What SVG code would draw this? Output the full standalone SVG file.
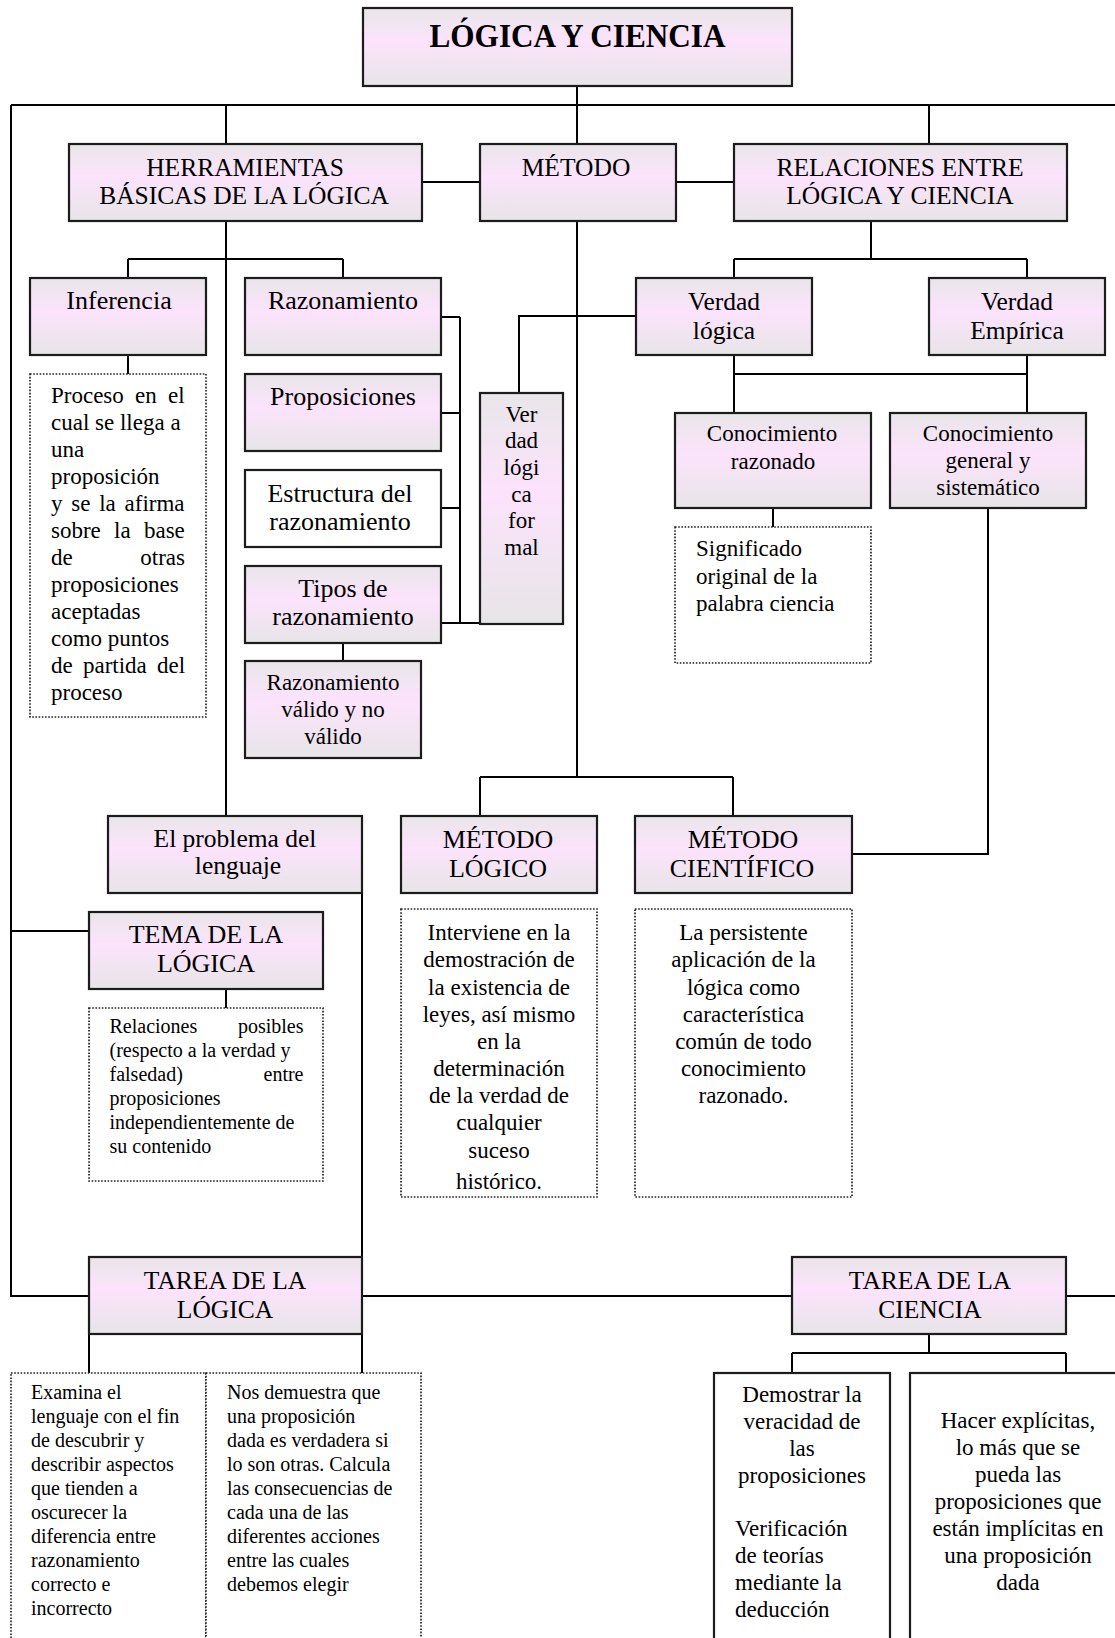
<svg xmlns="http://www.w3.org/2000/svg" width="1115" height="1638" viewBox="0 0 1115 1638">
<defs>
<linearGradient id="g" x1="0" y1="0" x2="0" y2="1">
<stop offset="0" stop-color="#e8e6e8"/>
<stop offset="0.42" stop-color="#fce3fc"/>
<stop offset="1" stop-color="#e7e5e7"/>
</linearGradient>
<style>
.n{fill:url(#g);stroke:#1c1c1c;stroke-width:2.2}
.w{fill:#fff;stroke:#1c1c1c;stroke-width:2.2}
.d{fill:#fff;stroke:#222;stroke-width:1.7;stroke-dasharray:1.6 1.6}
.c{fill:none;stroke:#000;stroke-width:2}
text{font-family:"Liberation Serif","Times New Roman",serif;fill:#000}
.h{font-size:25.5px;text-anchor:middle}
.m{font-size:26px;text-anchor:middle}
.s{font-size:23px;text-anchor:middle}
.sl{font-size:23px}
.x{font-size:20px}
.xr{font-size:20px;text-anchor:end}
.r{font-size:23px;text-anchor:end}
</style>
</defs>
<rect width="1115" height="1638" fill="#fff"/>
<g id="connectors" class="c">
<path d="M577,86V105M11,105H1115M226,105V144M577,105V144M929,105V144"/>
<path d="M422,182H480M676,182H734"/>
<path d="M11,105V1296H89M11,931H89"/>
<path d="M226,221V816M128,259H343M128,259V278M343,259V278M128,355V374"/>
<path d="M441,317H460M441,413H460M441,508H460M441,623H480M460,317V623"/>
<path d="M519,393V316H636"/>
<path d="M343,643V661"/>
<path d="M577,221V777M480,777H733M480,777V816M733,777V816"/>
<path d="M871,221V259M734,259H1027M734,259V278M1027,259V278"/>
<path d="M734,355V413M1027,355V413M734,374H1027"/>
<path d="M773,508V527"/>
<path d="M988,508V854H852"/>
<path d="M362,893V1257"/>
<path d="M226,989V1008"/>
<path d="M362,1296H792M1066,1296H1115"/>
<path d="M89,1334V1373M362,1334V1373"/>
<path d="M929,1334V1353M792,1353H1066M792,1353V1373M1066,1353V1373"/>
</g>
<g id="logica-y-ciencia">
<rect class="n" x="363" y="8" width="429" height="78"/>
<text x="577.5" y="47" font-size="33" font-weight="bold" text-anchor="middle" textLength="296" lengthAdjust="spacingAndGlyphs">LÓGICA Y CIENCIA</text>
</g>
<g id="herramientas">
<rect class="n" x="69" y="144" width="353" height="77"/>
<text class="h" x="245" y="176">HERRAMIENTAS</text>
<text class="h" x="244" y="204">BÁSICAS DE LA LÓGICA</text>
</g>
<g id="metodo">
<rect class="n" x="480" y="144" width="196" height="77"/>
<text class="h" x="576" y="176">MÉTODO</text>
</g>
<g id="relaciones">
<rect class="n" x="734" y="144" width="333" height="77"/>
<text class="h" x="900" y="176">RELACIONES ENTRE</text>
<text class="h" x="900" y="204">LÓGICA Y CIENCIA</text>
</g>
<g id="inferencia">
<rect class="n" x="30" y="278" width="176" height="77"/>
<text class="m" x="119" y="309">Inferencia</text>
</g>
<g id="inferencia-texto">
<rect class="d" x="30" y="374" width="176" height="343"/>
<text class="sl" x="51" y="403" word-spacing="5.5">Proceso en el</text>
<text class="sl" x="51" y="430">cual se llega a</text>
<text class="sl" x="51" y="457">una</text>
<text class="sl" x="51" y="484">proposición</text>
<text class="sl" x="51" y="511" word-spacing="3">y se la afirma</text>
<text class="sl" x="51" y="538" word-spacing="7.5">sobre la base</text>
<text class="sl" x="51" y="565">de</text>
<text class="r" x="185" y="565">otras</text>
<text class="sl" x="51" y="592">proposiciones</text>
<text class="sl" x="51" y="619">aceptadas</text>
<text class="sl" x="51" y="646">como puntos</text>
<text class="sl" x="51" y="673" word-spacing="4.5">de partida del</text>
<text class="sl" x="51" y="700">proceso</text>
</g>
<g id="razonamiento">
<rect class="n" x="245" y="278" width="196" height="77"/>
<text class="m" x="343" y="309">Razonamiento</text>
</g>
<g id="proposiciones">
<rect class="n" x="245" y="374" width="196" height="77"/>
<text class="m" x="343" y="405">Proposiciones</text>
</g>
<g id="estructura">
<rect class="w" x="245" y="470" width="196" height="77"/>
<text class="m" x="340" y="502">Estructura del</text>
<text class="m" x="340" y="530">razonamiento</text>
</g>
<g id="tipos">
<rect class="n" x="245" y="566" width="196" height="77"/>
<text class="m" x="343" y="597">Tipos de</text>
<text class="m" x="343" y="625">razonamiento</text>
</g>
<g id="valido">
<rect class="n" x="245" y="661" width="176" height="97"/>
<text class="s" x="333" y="690">Razonamiento</text>
<text class="s" x="333" y="717">válido y no</text>
<text class="s" x="333" y="744">válido</text>
</g>
<g id="verdad-logica-formal">
<rect class="n" x="480" y="393" width="83" height="231"/>
<text class="s" x="521.5" y="422">Ver</text>
<text class="s" x="521.5" y="448">dad</text>
<text class="s" x="521.5" y="475">lógi</text>
<text class="s" x="521.5" y="502">ca</text>
<text class="s" x="521.5" y="528">for</text>
<text class="s" x="521.5" y="555">mal</text>
</g>
<g id="verdad-logica">
<rect class="n" x="636" y="278" width="176" height="77"/>
<text class="h" x="724" y="310">Verdad</text>
<text class="h" x="724" y="339">lógica</text>
</g>
<g id="verdad-empirica">
<rect class="n" x="929" y="278" width="176" height="77"/>
<text class="h" x="1017" y="310">Verdad</text>
<text class="h" x="1017" y="339">Empírica</text>
</g>
<g id="conocimiento-razonado">
<rect class="n" x="675" y="413" width="196" height="95"/>
<text class="s" x="772" y="441">Conocimiento</text>
<text class="s" x="773" y="469">razonado</text>
</g>
<g id="conocimiento-general">
<rect class="n" x="890" y="413" width="196" height="95"/>
<text class="s" x="988" y="441">Conocimiento</text>
<text class="s" x="988" y="468">general y</text>
<text class="s" x="988" y="495">sistemático</text>
</g>
<g id="significado">
<rect class="d" x="675" y="527" width="196" height="136"/>
<text class="sl" x="696" y="556">Significado</text>
<text class="sl" x="696" y="584">original de la</text>
<text class="sl" x="696" y="611">palabra ciencia</text>
</g>
<g id="problema-lenguaje">
<rect class="n" x="108" y="816" width="254" height="77"/>
<text class="h" x="235" y="847">El problema del</text>
<text class="h" x="238" y="874">lenguaje</text>
</g>
<g id="metodo-logico">
<rect class="n" x="401" y="816" width="196" height="77"/>
<text class="m" x="498" y="848">MÉTODO</text>
<text class="m" x="498" y="877">LÓGICO</text>
</g>
<g id="metodo-cientifico">
<rect class="n" x="635" y="816" width="217" height="77"/>
<text class="m" x="743" y="848">MÉTODO</text>
<text class="m" x="742" y="877">CIENTÍFICO</text>
</g>
<g id="tema-logica">
<rect class="n" x="89" y="912" width="234" height="77"/>
<text class="m" x="206" y="943">TEMA DE LA</text>
<text class="m" x="206" y="972">LÓGICA</text>
</g>
<g id="tema-texto">
<rect class="d" x="89" y="1008" width="234" height="173"/>
<text class="x" x="109.5" y="1033">Relaciones</text>
<text class="xr" x="303.5" y="1033">posibles</text>
<text class="x" x="109.5" y="1057">(respecto a la verdad y</text>
<text class="x" x="109.5" y="1081">falsedad)</text>
<text class="xr" x="303.5" y="1081">entre</text>
<text class="x" x="109.5" y="1105">proposiciones</text>
<text class="x" x="109.5" y="1129">independientemente de</text>
<text class="x" x="109.5" y="1153">su contenido</text>
</g>
<g id="metodo-logico-texto">
<rect class="d" x="401" y="909" width="196" height="288"/>
<text class="s" x="499" y="940">Interviene en la</text>
<text class="s" x="499" y="967">demostración de</text>
<text class="s" x="499" y="995">la existencia de</text>
<text class="s" x="499" y="1022">leyes, así mismo</text>
<text class="s" x="499" y="1049">en la</text>
<text class="s" x="499" y="1076">determinación</text>
<text class="s" x="499" y="1103">de la verdad de</text>
<text class="s" x="499" y="1130">cualquier</text>
<text class="s" x="499" y="1158">suceso</text>
<text class="s" x="499" y="1189">histórico.</text>
</g>
<g id="metodo-cientifico-texto">
<rect class="d" x="635" y="909" width="217" height="288"/>
<text class="s" x="743.5" y="940">La persistente</text>
<text class="s" x="743.5" y="967">aplicación de la</text>
<text class="s" x="743.5" y="995">lógica como</text>
<text class="s" x="743.5" y="1022">característica</text>
<text class="s" x="743.5" y="1049">común de todo</text>
<text class="s" x="743.5" y="1076">conocimiento</text>
<text class="s" x="743.5" y="1103">razonado.</text>
</g>
<g id="tarea-logica">
<rect class="n" x="89" y="1257" width="273" height="77"/>
<text class="h" x="225" y="1289">TAREA DE LA</text>
<text class="h" x="225" y="1318">LÓGICA</text>
</g>
<g id="tarea-ciencia">
<rect class="n" x="792" y="1257" width="274" height="77"/>
<text class="h" x="930" y="1289">TAREA DE LA</text>
<text class="h" x="930" y="1318">CIENCIA</text>
</g>
<g id="examina">
<rect class="d" x="11" y="1373" width="195" height="280"/>
<text class="x" x="31" y="1399">Examina el</text>
<text class="x" x="31" y="1423">lenguaje con el fin</text>
<text class="x" x="31" y="1447">de descubrir y</text>
<text class="x" x="31" y="1471">describir aspectos</text>
<text class="x" x="31" y="1495">que tienden a</text>
<text class="x" x="31" y="1519">oscurecer la</text>
<text class="x" x="31" y="1543">diferencia entre</text>
<text class="x" x="31" y="1567">razonamiento</text>
<text class="x" x="31" y="1591">correcto e</text>
<text class="x" x="31" y="1615">incorrecto</text>
</g>
<g id="nos-demuestra">
<rect class="d" x="206" y="1373" width="215" height="280"/>
<text class="x" x="227" y="1399">Nos demuestra que</text>
<text class="x" x="227" y="1423">una proposición</text>
<text class="x" x="227" y="1447">dada es verdadera si</text>
<text class="x" x="227" y="1471">lo son otras. Calcula</text>
<text class="x" x="227" y="1495">las consecuencias de</text>
<text class="x" x="227" y="1519">cada una de las</text>
<text class="x" x="227" y="1543">diferentes acciones</text>
<text class="x" x="227" y="1567">entre las cuales</text>
<text class="x" x="227" y="1591">debemos elegir</text>
</g>
<g id="demostrar">
<rect class="w" x="714" y="1373" width="176" height="280"/>
<text class="s" x="802" y="1402">Demostrar la</text>
<text class="s" x="802" y="1429">veracidad de</text>
<text class="s" x="802" y="1456">las</text>
<text class="s" x="802" y="1483">proposiciones</text>
<text class="sl" x="735" y="1536">Verificación</text>
<text class="sl" x="735" y="1563">de teorías</text>
<text class="sl" x="735" y="1590">mediante la</text>
<text class="sl" x="735" y="1617">deducción</text>
</g>
<g id="hacer-explicitas">
<rect class="w" x="910" y="1373" width="215" height="280"/>
<text class="s" x="1018" y="1428">Hacer explícitas,</text>
<text class="s" x="1018" y="1455">lo más que se</text>
<text class="s" x="1018" y="1482">pueda las</text>
<text class="s" x="1018" y="1509">proposiciones que</text>
<text class="s" x="1018" y="1536">están implícitas en</text>
<text class="s" x="1018" y="1563">una proposición</text>
<text class="s" x="1018" y="1590">dada</text>
</g>
</svg>
